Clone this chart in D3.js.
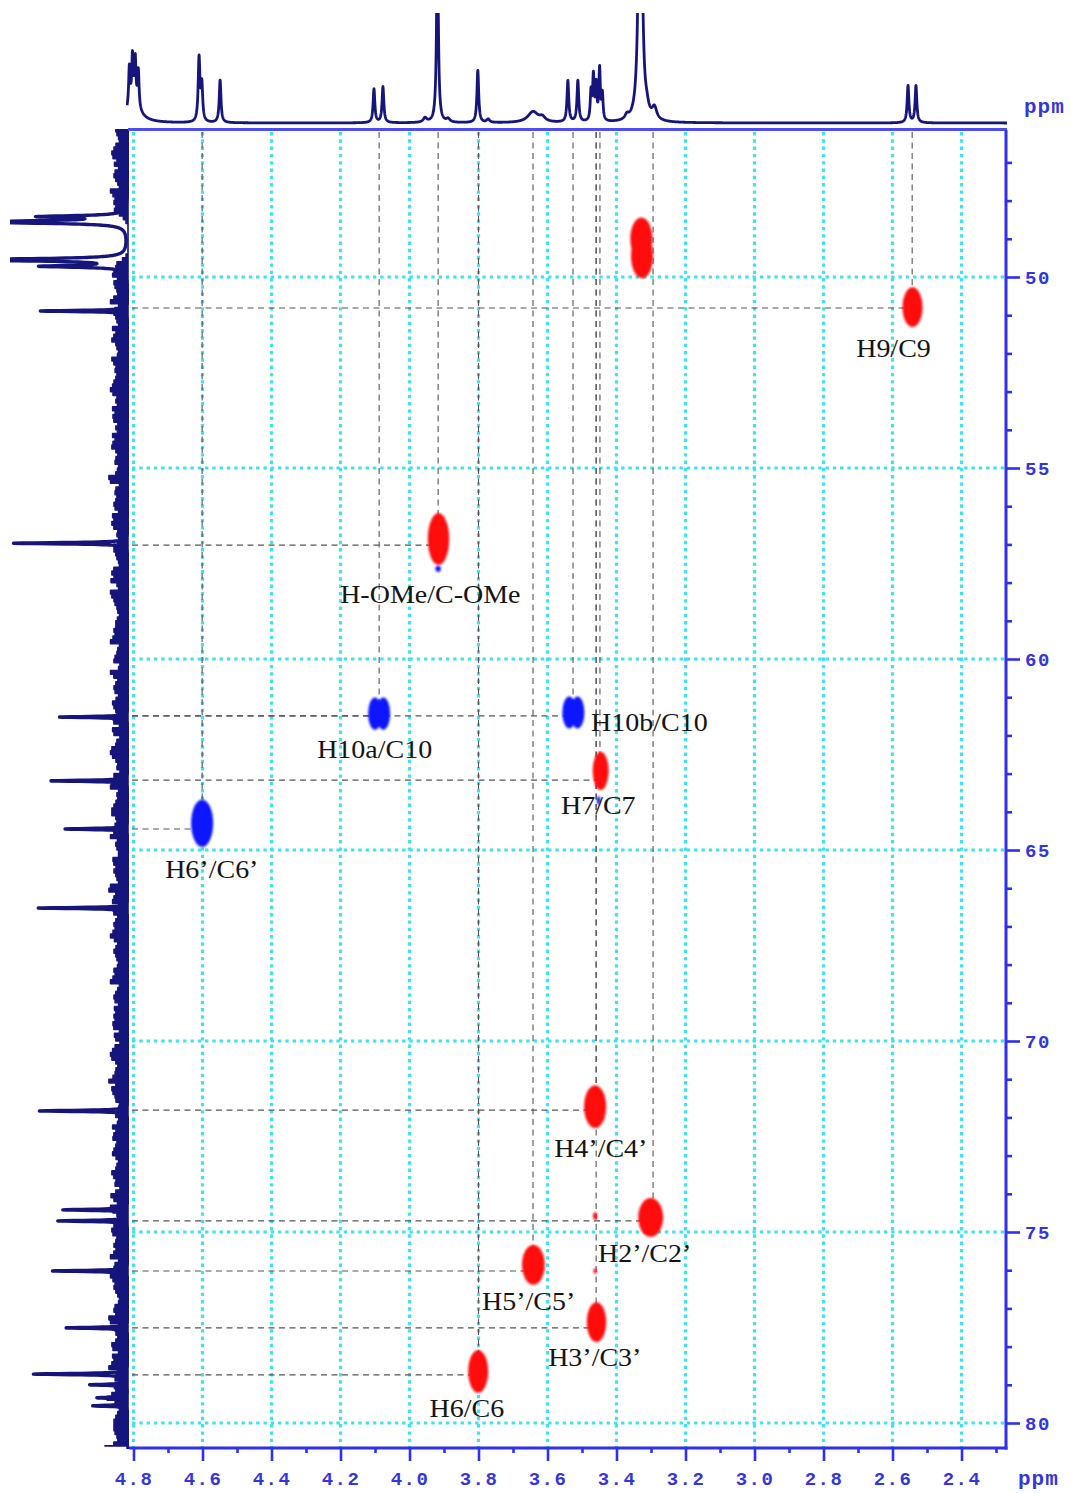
<!DOCTYPE html>
<html>
<head>
<meta charset="utf-8">
<script src="https://cdn.jsdelivr.net/npm/d3@7"></script>
<style>
  body { margin: 0; background: #ffffff; }
  svg { display: block; }
</style>
</head>
<body>
<svg id="chart" width="1071" height="1493"></svg>
<script>
// ---------- axis ticks (ppm) ----------
const protonTicks = [4.8, 4.6, 4.4, 4.2, 4.0, 3.8, 3.6, 3.4, 3.2, 3.0, 2.8, 2.6, 2.4];
const protonMinorTicks = [4.7, 4.5, 4.3, 4.1, 3.9, 3.7, 3.5, 3.3, 3.1, 2.9, 2.7, 2.5, 2.3];
const carbonTicks = [50, 55, 60, 65, 70, 75, 80];
const carbonMinorTicks = [47, 48, 49, 51, 52, 53, 54, 56, 57, 58, 59, 61, 62, 63, 64,
                          66, 67, 68, 69, 71, 72, 73, 74, 76, 77, 78, 79];

// ---------- 1H projection: line shifts (ppm), heights (rel.), half-widths (ppm) ----------
const protonShifts  = [4.800, 4.812, 4.803, 4.795, 4.786, 4.610, 4.602, 4.549, 4.103, 4.077,
                       3.955, 3.919, 3.888, 3.802, 3.772, 3.642, 3.615, 3.541, 3.512,
                       3.474, 3.467, 3.459, 3.449, 3.441, 3.370, 3.331, 3.312, 3.290,
                       2.555, 2.532];
const protonHeights = [18, 36, 42, 40, 34, 58, 33, 39, 31, 33,
                       4, 170, 3, 48, 3, 10, 4, 38, 38,
                       26, 40, 32, 47, 24, 4, 420, 6, 11,
                       34, 34];
const protonWidths  = [0.022, 0.0025, 0.0025, 0.0025, 0.0025, 0.003, 0.003, 0.003, 0.003, 0.003,
                       0.006, 0.003, 0.006, 0.003, 0.005, 0.018, 0.010, 0.003, 0.003,
                       0.0025, 0.0025, 0.0025, 0.0025, 0.0025, 0.006, 0.0045, 0.006, 0.008,
                       0.003, 0.003];

// ---------- 13C projection: line shifts (ppm), heights (rel.), half-widths (ppm) ----------
const carbonShifts  = [48.42, 48.56, 49.55, 49.72, 50.89, 56.97, 61.52, 63.19, 64.45, 66.52,
                       71.83, 74.42, 74.71, 76.02, 77.51, 78.72, 79.00, 79.34, 79.55];
const carbonHeights = [70, 140, 140, 70, 75, 98, 58, 66, 54, 76,
                       76, 55, 60, 64, 53, 80, 32, 26, 30];
const carbonWidths  = [0.03, 0.035, 0.035, 0.03, 0.018, 0.02, 0.018, 0.018, 0.018, 0.018,
                       0.018, 0.018, 0.018, 0.018, 0.018, 0.02, 0.018, 0.018, 0.018];
// baseline noise of the 13C trace, one digit per 0.1 ppm starting at 46.1 ppm
const carbonNoise =
  "5746385947" + "6485736948" + "5763200000" + "0000247586" +
  "5847396485" + "7468395746" + "5938475869" + "4756849375" + "6849573846" +
  "5796384758" + "4685937465" + "8574639587" + "4695847365" + "7584963748" +
  "5469375846" + "6857493685" + "4759683745" + "8596473859" + "5748396574" +
  "6493857469" + "7586493758" + "4967385746" + "5849637584" + "6758493675" +
  "4869573849" + "7594836475" + "5683947586" + "6475938457" + "8569473859" +
  "4758396485" + "6948573648" + "5796483759" + "4685973846" + "7598463758" +
  "584739";
const noiseStart = 46.1, noiseStep = 0.1;

// ---------- HSQC cross peaks: 1H / 13C centre, half-widths (ppm), phase (+1 CH/CH3, -1 CH2) ----------
const crossH     = [3.328, 3.326, 2.542, 3.916, 3.917, 4.100, 4.076, 3.537, 3.513, 3.446,
                    3.452, 4.601, 3.462, 3.301, 3.641, 3.458, 3.801, 3.462, 3.462];
const crossC     = [49.00, 49.45, 50.79, 56.86, 57.64, 61.43, 61.43, 61.40, 61.40, 62.93,
                    63.70, 64.30, 71.72, 74.62, 75.86, 77.36, 78.65, 74.58, 76.02];
const crossWidthH = [0.032, 0.032, 0.029, 0.031, 0.008, 0.020, 0.020, 0.020, 0.020, 0.023,
                     0.005, 0.032, 0.032, 0.036, 0.033, 0.028, 0.029, 0.006, 0.005];
const crossWidthC = [0.56, 0.58, 0.52, 0.68, 0.08, 0.42, 0.42, 0.42, 0.42, 0.50,
                     0.11, 0.62, 0.56, 0.51, 0.52, 0.52, 0.56, 0.10, 0.07];
const crossPhase  = [1, 1, 1, 1, -1, -1, -1, -1, -1, 1,
                     -1, -1, 1, 1, 1, 1, 1, 1, 1];

// ---------- assignments: label, 1H shift, 13C shift ----------
const assignLabels = ["H9/C9", "H-OMe/C-OMe", "H10a/C10", "H10b/C10", "H7/C7", "H6’/C6’",
                      "H4’/C4’", "H2’/C2’", "H5’/C5’", "H3’/C3’", "H6/C6"];
const assignH = [2.543, 3.917, 4.088, 3.526, 3.448, 4.601, 3.459, 3.294, 3.642, 3.459, 3.800];
const assignC = [50.81, 57.02, 61.49, 61.49, 63.17, 64.45, 71.81, 74.71, 76.02, 77.51, 78.74];

// label placement relative to the assignment point (px)
const labelNudge = [[-56, 49], [-98, 58], [-62, 42], [18, 15], [-39, 34], [-37, 49],
                    [-42, 47], [-55, 41], [-51, 39], [-48, 38], [-49, 42]];

// ---------- layout ----------
const plot = { left: 132, right: 1006, top: 130, bottom: 1448 };
const COL = {
  grid: "#3fe2ee", axis: "#2f2ff0", text: "#3535dc", trace: "#15157c",
  guide: "#555555", pos: "#ff0d0d", neg: "#0a18ff", label: "#141414"
};

const svg = d3.select("#chart");
const x = d3.scaleLinear().domain([4.8, 2.4]).range([133.5, 961.5]);
const y = d3.scaleLinear().domain([50, 80]).range([277, 1423]);
const topI = d3.scaleLinear().domain([0, 100]).range([123, 14]);
const leftI = d3.scaleLinear().domain([0, 100]).range([128, 10]);

const defs = svg.append("defs");
defs.append("filter").attr("id", "soft")
  .attr("x", "-50%").attr("y", "-50%").attr("width", "200%").attr("height", "200%")
  .append("feGaussianBlur").attr("stdDeviation", 0.9);
defs.append("clipPath").attr("id", "clipTop")
  .append("rect").attr("x", 126).attr("y", 13).attr("width", 882).attr("height", 116);
defs.append("clipPath").attr("id", "clipLeft")
  .append("rect").attr("x", 10).attr("y", 129).attr("width", 119).attr("height", 1320);

// ---------- dotted grid ----------
const grid = svg.append("g");
grid.selectAll("line.v").data(protonTicks).join("line").attr("class", "v")
  .attr("x1", d => x(d)).attr("x2", d => x(d))
  .attr("y1", plot.top + 2).attr("y2", plot.bottom)
  .attr("stroke", COL.grid).attr("stroke-width", 3.2).attr("stroke-dasharray", "3.4 3.9");
grid.selectAll("line.h").data(carbonTicks).join("line").attr("class", "h")
  .attr("y1", d => y(d)).attr("y2", d => y(d))
  .attr("x1", plot.left).attr("x2", plot.right)
  .attr("stroke", COL.grid).attr("stroke-width", 3.2).attr("stroke-dasharray", "3.4 3.9");

// ---------- dashed assignment guides ----------
const guides = svg.append("g").attr("stroke", COL.guide).attr("stroke-width", 1.1)
  .attr("stroke-dasharray", "6 4.5");
guides.selectAll("line.gv").data(assignH).join("line").attr("class", "gv")
  .attr("x1", d => x(d)).attr("x2", d => x(d))
  .attr("y1", plot.top + 2).attr("y2", (d, i) => y(assignC[i]));
guides.selectAll("line.gh").data(assignC).join("line").attr("class", "gh")
  .attr("y1", d => y(d)).attr("y2", d => y(d))
  .attr("x1", plot.left).attr("x2", (d, i) => x(assignH[i]));

// ---------- cross peaks ----------
const crossIdx = d3.range(crossH.length);
svg.append("g").attr("filter", "url(#soft)")
  .selectAll("ellipse").data(crossIdx).join("ellipse")
  .attr("cx", i => x(crossH[i])).attr("cy", i => y(crossC[i]))
  .attr("rx", i => Math.abs(x(crossH[i] - crossWidthH[i]) - x(crossH[i])))
  .attr("ry", i => Math.abs(y(crossC[i] + crossWidthC[i]) - y(crossC[i])))
  .attr("fill", i => crossPhase[i] > 0 ? COL.pos : COL.neg);

// ---------- labels ----------
svg.append("g").selectAll("text").data(assignLabels).join("text")
  .attr("transform", (d, i) => {
    const lx = x(assignH[i]) + labelNudge[i][0];
    const ly = y(assignC[i]) + labelNudge[i][1];
    return `translate(${lx},${ly}) scale(1.12,1)`;
  })
  .attr("font-family", "'Liberation Serif', 'Times New Roman', serif")
  .attr("font-size", 25).attr("fill", COL.label)
  .text(d => d);

// ---------- 1H projection (top) ----------
function lorentz(p, shifts, heights, widths) {
  let s = 0;
  for (let k = 0; k < shifts.length; k++) {
    const u = (p - shifts[k]) / widths[k];
    s += heights[k] / (1 + u * u);
  }
  return s;
}
const hPoints = d3.range(x.invert(127), x.invert(1007), -0.0005)
  .map(p => [p, lorentz(p, protonShifts, protonHeights, protonWidths)]);
svg.append("g").attr("clip-path", "url(#clipTop)")
  .append("path").datum(hPoints)
  .attr("d", d3.line().x(d => x(d[0])).y(d => topI(Math.min(d[1], 120))))
  .attr("fill", "none").attr("stroke", COL.trace).attr("stroke-width", 2.8)
  .attr("stroke-linejoin", "round");

// ---------- 13C projection (left) ----------
// noise digits are drawn as a stepped band; larger digits give the longer spikes
const noisePts = carbonNoise.split("").map((c, i) => [noiseStart + i * noiseStep, +c]);
const leftG = svg.append("g").attr("clip-path", "url(#clipLeft)");
leftG.append("path").datum(noisePts)
  .attr("d", d3.area().curve(d3.curveStep)
    .y(d => y(d[0])).x0(leftI(0))
    .x1(d => leftI(d[1] > 0 ? 2.5 + d[1] * d[1] * 0.21 : 0)))
  .attr("fill", COL.trace).attr("stroke", COL.trace).attr("stroke-width", 1.6)
  .attr("stroke-linejoin", "round");
const cPoints = d3.range(46.0, 80.8, 0.004)
  .map(p => [p, lorentz(p, carbonShifts, carbonHeights, carbonWidths)]);
leftG.append("path").datum(cPoints)
  .attr("d", d3.line().y(d => y(d[0])).x(d => leftI(Math.min(d[1], 110))))
  .attr("fill", "none").attr("stroke", COL.trace).attr("stroke-width", 3.4)
  .attr("stroke-linejoin", "round");

// ---------- frame ----------
const frame = svg.append("g").attr("stroke", COL.axis).attr("stroke-width", 3).attr("fill", "none");
frame.append("line").attr("x1", 128).attr("x2", plot.right + 1).attr("y1", 129.5).attr("y2", 129.5)
  .attr("stroke", "#4d4df2");
frame.append("line").attr("x1", plot.right).attr("x2", plot.right)
  .attr("y1", plot.top).attr("y2", plot.bottom + 1.5);
frame.append("line").attr("x1", 129).attr("x2", plot.right + 1.5)
  .attr("y1", plot.bottom).attr("y2", plot.bottom);

// ---------- axes ----------
const tickFont = "'Liberation Mono', 'DejaVu Sans Mono', monospace";
const bottomAxis = svg.append("g").attr("transform", `translate(0,${plot.bottom})`)
  .call(d3.axisBottom(x).tickValues(protonTicks).tickFormat(d3.format(".1f"))
    .tickSize(13).tickPadding(11));
const bottomMinor = svg.append("g").attr("transform", `translate(0,${plot.bottom})`)
  .call(d3.axisBottom(x).tickValues(protonMinorTicks).tickFormat("").tickSize(5));
const rightAxis = svg.append("g").attr("transform", `translate(${plot.right},0)`)
  .call(d3.axisRight(y).tickValues(carbonTicks).tickFormat(d3.format("d"))
    .tickSize(14).tickPadding(5));
const rightMinor = svg.append("g").attr("transform", `translate(${plot.right},0)`)
  .call(d3.axisRight(y).tickValues(carbonMinorTicks).tickFormat("").tickSize(6));

[bottomAxis, bottomMinor, rightAxis, rightMinor].forEach(g => {
  g.select(".domain").remove();
  g.selectAll(".tick line").attr("stroke", COL.axis).attr("stroke-width", 2.6);
  g.selectAll(".tick text").attr("fill", COL.text)
    .attr("font-family", tickFont).attr("font-weight", "bold")
    .attr("font-size", 19).attr("letter-spacing", "1.5px");
});

svg.append("text").attr("x", 1018).attr("y", 1485)
  .attr("font-family", tickFont).attr("font-weight", "bold").attr("font-size", 21)
  .attr("letter-spacing", "1px").attr("fill", COL.text).text("ppm");
svg.append("text").attr("x", 1024).attr("y", 113)
  .attr("font-family", tickFont).attr("font-weight", "bold").attr("font-size", 21)
  .attr("letter-spacing", "1px").attr("fill", COL.text).text("ppm");
</script>
</body>
</html>
